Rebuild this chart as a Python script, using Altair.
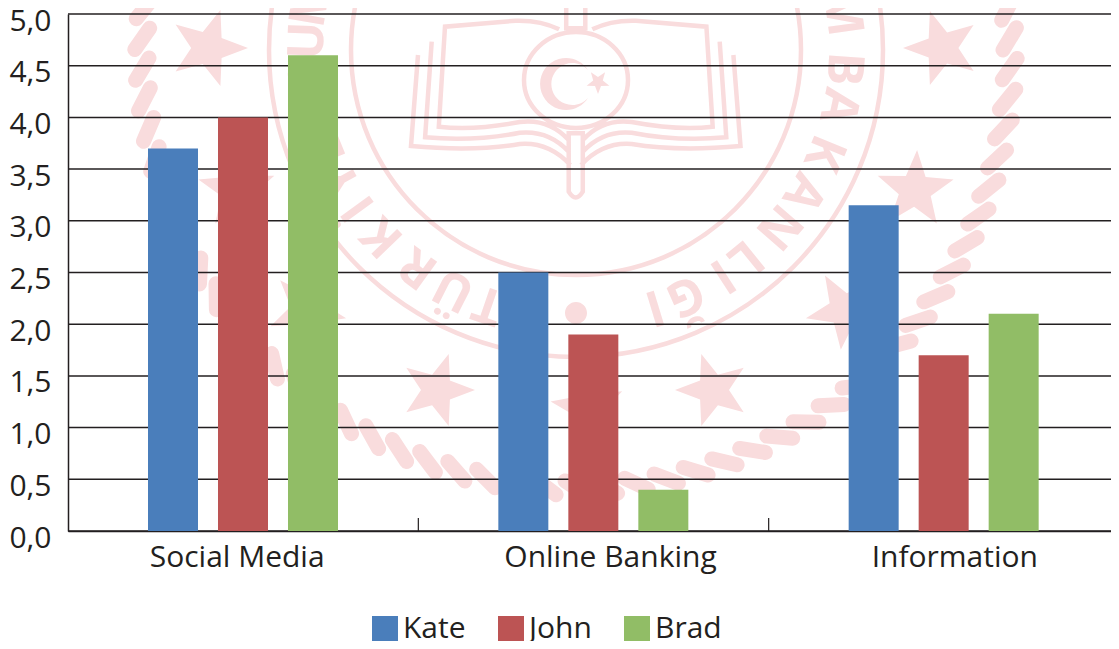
import math
import altair as alt
import pandas as pd

categories = ["Social Media", "Online Banking", "Information"]
people = ["Kate", "John", "Brad"]
colors = ["#4a7ebb", "#bc5454", "#91bd66"]
kate = [3.7, 2.5, 3.15]
john = [4.0, 1.9, 1.7]
brad = [4.6, 0.4, 2.1]
y_ticks = [0, 0.5, 1, 1.5, 2, 2.5, 3, 3.5, 4, 4.5, 5]
label_shift = [-6, 17, 11]

FONT = "Open Sans"
INK = "#231f20"
PINK = "#f9dcdd"
W, H = 1051, 517
VIEW_W = 1043  # the page's own 8px right margin must not overflow
OX, OY = 68, 14

# decorative stamp behind the chart, in page pixels
stamp_letters = list("TÜRKİYE") + list("CUM") + list("MBAKANLIĞI")
stamp_angles = [-19, -27, -36, -46, -54, -61, -68, -84, -92, -100, 98, 86, 78, 67.5, 58, 49, 39, 33, 24, 17]
star_spec = [(208, 48, 40, 0), (942, 48, 39, 36), (915, 190, 40, -15), (237, 190, 40, 195),
             (437, 390, 38, 0), (713, 390, 38, 36), (588, 408, 38, 46), (845, 310, 40, 24), (307, 310, 40, 156)]

def px(x, y):
    return f"{x - OX:.1f},{y - OY:.1f}"

def circle(cx, cy, rx, ry=None):
    ry = ry or rx
    return (f"M{px(cx - rx, cy)}A{rx},{ry} 0 1,0 {px(cx + rx, cy)}A{rx},{ry} 0 1,0 {px(cx - rx, cy)}Z")

def star(cx, cy, r, rot):
    pts = []
    for i in range(10):
        a = math.radians(rot + i * 36)
        q = r if i % 2 == 0 else r * 0.42
        pts.append(px(cx + q * math.cos(a), cy + q * math.sin(a)))
    return "M" + "L".join(pts) + "Z"

def crop(X, Y, mirror=False):
    if mirror:
        X = 2 * 785 - X
    return px(250 + X / 2.41, Y / 3)

def book(mirror):
    c = lambda X, Y: crop(X, Y, mirror)
    return (
        f"M{c(745,88)}Q{c(700,60)} {c(640,62)}L{c(470,80)}L{c(455,380)}Q{c(540,392)} {c(650,366)}Q{c(720,355)} {c(768,420)}"
        f"M{c(438,125)}L{c(422,412)}Q{c(540,425)} {c(650,398)}Q{c(720,390)} {c(768,455)}"
        f"M{c(405,165)}L{c(388,438)}Q{c(540,455)} {c(650,432)}Q{c(720,425)} {c(772,495)}"
    )

outline = (
    circle(576, 50, 307) + circle(576, 50, 225) + circle(576, 80, 52, 48) + book(False) + book(True)
    + f"M{crop(768,400)}L{crop(768,575)}Q{crop(785,610)} {crop(802,575)}L{crop(802,400)}Z"
    + f"M{crop(762,10)}L{crop(762,85)}L{crop(808,85)}L{crop(808,10)}"
)
solid = "".join(star(*s) for s in star_spec) + star(598, 82, 12, 18) + circle(576, 313, 11)
solid += f"M{px(588, 70)}A26,26 0 1,0 {px(588, 98)}A21,21 0 1,1 {px(588, 70)}Z"

leaves = ""
for deg in range(-100, 101, 4):
    a = math.radians(90 - deg)
    cx, cy = 576 + 434 * math.cos(a), 54 + 434 * math.sin(a)
    t = math.radians(-deg + 33)
    leaves += f"M{px(cx - 13 * math.cos(t), cy - 13 * math.sin(t))}L{px(cx + 13 * math.cos(t), cy + 13 * math.sin(t))}"

origin = pd.DataFrame({"p": [0]})
wm_fill = alt.Chart(origin).mark_point(shape=solid, size=4, filled=True, color=PINK, opacity=1).encode(x=alt.value(0), y=alt.value(0))
wm_line = alt.Chart(origin).mark_point(shape=outline, size=4, filled=False, color=PINK, opacity=1, strokeWidth=4.5).encode(x=alt.value(0), y=alt.value(0))
wm_leaf = alt.Chart(origin).mark_point(shape=leaves, size=4, filled=False, color=PINK, opacity=1, strokeWidth=15, strokeCap="round").encode(x=alt.value(0), y=alt.value(0))

letters = pd.DataFrame({
    "ch": stamp_letters,
    "px": [576 + 268 * math.sin(math.radians(a)) - OX for a in stamp_angles],
    "py": [50 + 268 * math.cos(math.radians(a)) - OY for a in stamp_angles],
    "ang": [(180 - a) % 360 for a in stamp_angles],
})
wm_text = alt.Chart(letters).mark_text(font=FONT, fontSize=50, fontWeight="bold", color=PINK, baseline="middle", align="center").encode(
    x=alt.X("px:Q", scale=None), y=alt.Y("py:Q", scale=None), angle=alt.Angle("ang:Q", scale=None), text="ch:N")

rows = []
for c, a, b, d in zip(categories, kate, john, brad):
    rows += [{"cat": c, "who": "Kate", "v": a}, {"cat": c, "who": "John", "v": b}, {"cat": c, "who": "Brad", "v": d}]
df = pd.DataFrame(rows)

xs = alt.Scale(domain=categories, paddingInner=0, paddingOuter=0, range=[0, W])
ys = alt.Scale(domain=[0, 5], nice=False)

grid = alt.Chart(pd.DataFrame({"t": y_ticks})).mark_rule(color=INK, strokeWidth=1.5).encode(
    y=alt.Y("t:Q", scale=ys, axis=alt.Axis(
        values=y_ticks, title=None, labelExpr="replace(format(datum.value,'.1f'),'.',',')",
        labelFont=FONT, labelFontSize=30, labelColor=INK, labelPadding=17, labelOffset=7,
        domainColor=INK, domainWidth=1.5, ticks=False, grid=False)),
    x=alt.value(0), x2=alt.value(W),
)

bars = alt.Chart(df).mark_bar().encode(
    x=alt.X("cat:N", scale=xs, sort=categories, axis=alt.Axis(
        title=None, labels=False, ticks=False, domainColor=INK, domainWidth=1.5)),
    xOffset=alt.XOffset("who:N", sort=people, scale=alt.Scale(domain=people, range=[80, 270], paddingInner=0.2857, paddingOuter=0)),
    y=alt.Y("v:Q", scale=ys),
    color=alt.Color("who:N", sort=people, scale=alt.Scale(domain=people, range=colors), legend=alt.Legend(
        orient="none", legendX=302, legendY=600, direction="horizontal", title=None,
        symbolType="square", symbolSize=676, symbolStrokeWidth=0, symbolOpacity=1,
        labelFont=FONT, labelFontSize=30, labelColor=INK, labelOffset=3,
        columnPadding=30, labelLimit=200)),
)

ticks = alt.Chart(pd.DataFrame({"cat": categories[1:]})).mark_rule(color=INK, strokeWidth=1.2).encode(
    x=alt.X("cat:N", scale=xs, sort=categories, bandPosition=0),
    y=alt.value(H - 13), y2=alt.value(H),
)

labels = [
    alt.Chart(pd.DataFrame({"cat": [c]})).mark_text(
        font=FONT, fontSize=30, color=INK, dx=s, baseline="middle").encode(
        x=alt.X("cat:N", scale=xs, sort=categories), y=alt.value(H + 27), text="cat:N")
    for c, s in zip(categories, label_shift)
]

chart = alt.layer(wm_leaf, wm_line, wm_fill, wm_text, grid, bars, ticks, *labels).resolve_scale(x="shared", y="shared").properties(
    width=VIEW_W, height=H, padding={"left": 60, "top": 6, "right": 0, "bottom": 110},
    autosize=alt.AutoSizeParams(type="none")).configure_view(stroke=None)
chart.save("out.html", embed_options={"renderer": "svg", "actions": False})
